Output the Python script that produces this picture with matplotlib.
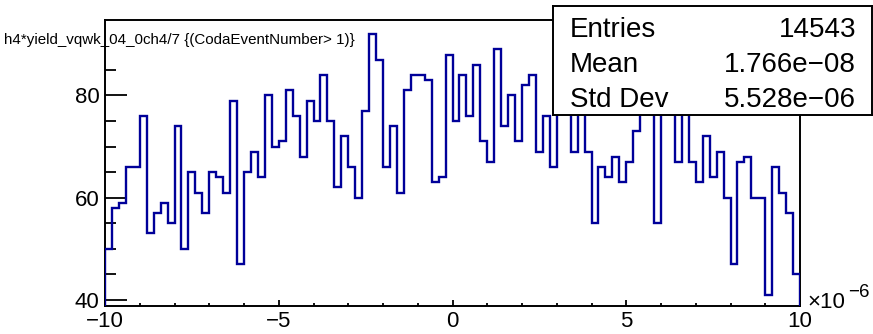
import numpy as np
import matplotlib
matplotlib.use("Agg")
import matplotlib.pyplot as plt
from matplotlib.ticker import MultipleLocator, FixedLocator

plt.rcParams['font.family'] = ['Liberation Sans', 'DejaVu Sans']

# h4*yield_vqwk_04_0ch4/7, 100 bins on [-10, 10] (units of 1e-6)
x_min, x_max = -10, 10
counts = [50, 58, 59, 66, 66, 76, 53, 57, 59, 55,
          74, 50, 65, 61, 57, 65, 64, 61, 79, 47,
          65, 69, 64, 80, 70, 71, 81, 76, 68, 79,
          75, 84, 75, 62, 72, 66, 60, 77, 92, 87,
          66, 74, 61, 81, 84, 84, 83, 63, 64, 88,
          75, 84, 76, 86, 71, 67, 89, 74, 80, 71,
          82, 84, 69, 76, 66, 80, 84, 69, 78, 69,
          55, 66, 64, 68, 63, 67, 73, 82, 86, 55,
          79, 83, 67, 78, 67, 63, 72, 64, 69, 60,
          47, 67, 68, 60, 60, 41, 66, 61, 57, 45]

title = "h4*yield_vqwk_04_0ch4/7 {(CodaEventNumber> 1)}"
stat_names = ["Entries", "Mean", "Std Dev"]
stat_values = ["14543", "1.766e\u221208", "5.528e\u221206"]

W, H = 873, 334
fig = plt.figure(figsize=(W / 100, H / 100), dpi=100)

# main frame (pixel positions from the ROOT canvas)
ax = fig.add_axes([105 / W, 1 - 306 / H, 695 / W, (306 - 19.8) / H])
edges = np.linspace(x_min, x_max, len(counts) + 1)
ymin, ymax = 38.8, 94.8
ax.stairs(counts, edges, baseline=ymin, color='#000099', linewidth=1.7, zorder=3)
ax.set_xlim(x_min, x_max)
ax.set_ylim(ymin, ymax)

ax.xaxis.set_major_locator(MultipleLocator(5))
ax.xaxis.set_minor_locator(MultipleLocator(1))
ax.yaxis.set_major_locator(FixedLocator([40, 60, 80]))
ax.yaxis.set_minor_locator(FixedLocator([45, 50, 55, 65, 70, 75, 85]))
ax.tick_params(axis='both', which='both', direction='in', width=1.3,
               top=False, right=False, labelsize=16)
ax.tick_params(axis='y', which='major', length=15.8, pad=4)
ax.tick_params(axis='y', which='minor', length=7.9)
ax.tick_params(axis='x', which='major', length=4.3, pad=3.5)
ax.tick_params(axis='x', which='minor', length=2.2)
for s in ax.spines.values():
    s.set_linewidth(1.4)

# title sits inside the pad, over the frame
fig.text(4 / W, 1 - 44 / H, title, fontsize=10.9, va='baseline', ha='left')

# axis exponent
fig.text(807 / W, 1 - 308 / H, "\u00d710", fontsize=16, va='baseline', ha='left')
fig.text(848 / W, 1 - 297 / H, "\u22126", fontsize=13.5, va='baseline', ha='left')

# stats box
sax = fig.add_axes([553 / W, 1 - 115 / H, 319 / W, 109 / H])
sax.set_xticks([])
sax.set_yticks([])
for s in sax.spines.values():
    s.set_linewidth(1.4)
for name, val, yb in zip(stat_names, stat_values, [0.718, 0.394, 0.073]):
    sax.text(0.053, yb, name, fontsize=20, va='baseline', ha='left', transform=sax.transAxes)
    sax.text(0.95, yb, val, fontsize=20, va='baseline', ha='right', transform=sax.transAxes)

fig.savefig("out.png", dpi=100)
